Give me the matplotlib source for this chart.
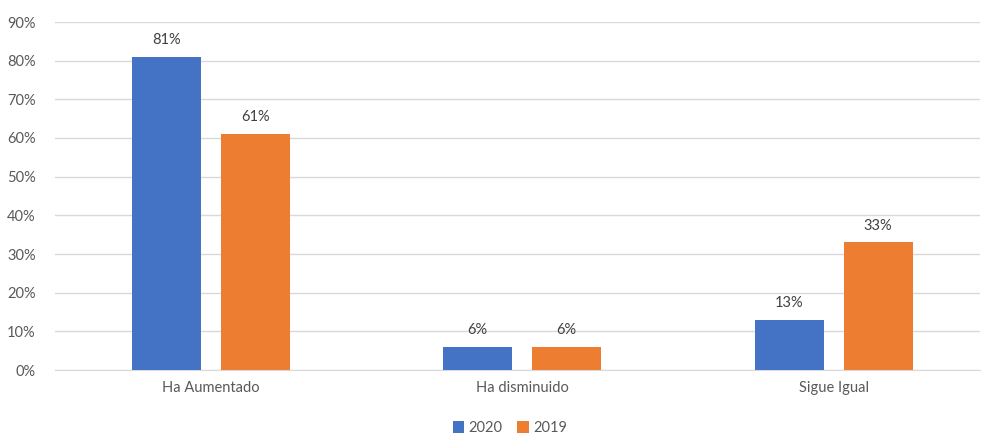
import matplotlib.pyplot as plt
import numpy as np

categorias = ['Ha Aumentado', 'Ha disminuido', 'Sigue Igual']
valores_2020 = [0.81, 0.06, 0.13]
valores_2019 = [0.61, 0.06, 0.33]
series = ['2020', '2019']

plt.rcParams['font.family'] = ['Lato', 'DejaVu Sans']

azul = '#4472C4'
naranja = '#ED7D31'
gris_texto = '#595959'
fs = 10.5

fig = plt.figure(figsize=(9.82, 4.34), dpi=100)
ax = fig.add_axes([55 / 982, 64 / 434, 925 / 982, 348 / 434])

x = np.arange(len(categorias))
ancho = 0.2215
desp = 0.143

b1 = ax.bar(x - desp, valores_2020, ancho, color=azul, label=series[0], zorder=3)
b2 = ax.bar(x + desp, valores_2019, ancho, color=naranja, label=series[1], zorder=3)

# etiquetas sobre las barras
for barras in (b1, b2):
    for b in barras:
        ax.annotate(f'{b.get_height() * 100:.0f}%',
                    (b.get_x() + b.get_width() / 2, b.get_height()),
                    xytext=(0, 12), textcoords='offset points',
                    ha='center', va='center', fontsize=fs, color='#404040')

ax.set_xlim(-0.5, 2.47)
ax.set_ylim(0, 0.9)
ax.set_yticks(np.arange(0, 0.91, 0.1))
ax.set_yticklabels([f'{v}%' for v in range(0, 91, 10)])
ax.set_xticks(x)
ax.set_xticklabels(categorias)
ax.tick_params(axis='both', length=0, colors=gris_texto, labelsize=fs)
ax.tick_params(axis='y', pad=14)
ax.tick_params(axis='x', pad=8)

ax.grid(axis='y', color='#D9D9D9', linewidth=1, zorder=0)
for s in ['top', 'right', 'left']:
    ax.spines[s].set_visible(False)
ax.spines['bottom'].set_color('#D9D9D9')

leg = fig.legend(loc='center', bbox_to_anchor=(510 / 982, 6 / 434), ncol=2,
                 frameon=False, fontsize=fs, handlelength=0.8, handleheight=0.8,
                 handletextpad=0.3, columnspacing=1.0)
for t in leg.get_texts():
    t.set_color(gris_texto)

plt.savefig('out.png', dpi=100)
